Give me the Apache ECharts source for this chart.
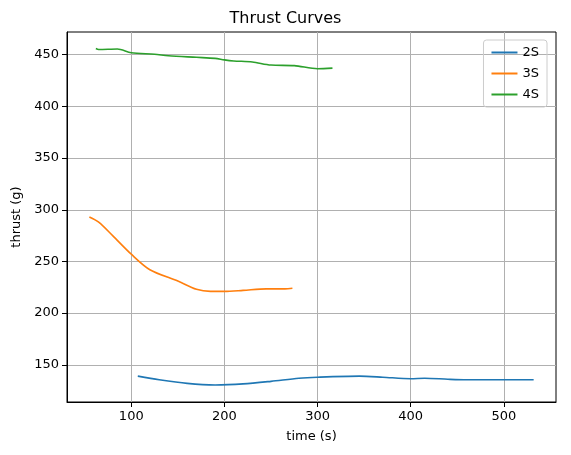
<!DOCTYPE html><html><head><meta charset="utf-8"><script src="https://cdn.jsdelivr.net/npm/echarts@6/dist/echarts.min.js"></script>
<style>body{margin:0}#c{width:571px;height:455px}</style></head><body><div id="c"></div><script>
const s2 = [[107,139],[130,135.5],[160,132],[190,130.5],[220,131.5],[250,134],[280,137],[300,138],[345,139],[370,138],[400,136.5],[415,137],[440,136],[460,135.5],[500,135.5],[532,135.5]];
const s3 = [[55,293],[65,288],[80,275],[100,257],[120,242],[150,231],[170,223],[185,221],[200,221],[220,222],[245,223.5],[265,223.5],[273,224]];
const s4 = [[62,456],[65,455],[85,455.5],[100,452],[125,450.5],[140,449],[170,447.5],[190,446.5],[200,445],[210,444],[230,443],[250,440],[275,439.5],[300,436.5],[316,437]];
const xTicks=[100,200,300,400,500];
const yTicks=[150,200,250,300,350,400,450];
const font='DejaVu Sans';
const ch=echarts.init(document.getElementById('c'));
const mk=(n,d,c)=>({name:n,type:'line',data:d,showSymbol:false,smooth:0.3,lineStyle:{color:c,width:1.6},itemStyle:{color:c}});
ch.setOption({
 animation:false,
 title:{text:'Thrust Curves',left:'center',top:6,textStyle:{fontFamily:font,fontSize:16,fontWeight:'normal',color:'#000'}},
 grid:{left:67,right:15,top:32,bottom:53,show:true,borderColor:'#000',borderWidth:1,backgroundColor:'transparent'},
 legend:{orient:'vertical',right:24,top:40,itemWidth:26,itemHeight:2,icon:'rect',padding:[6,8],borderColor:'#ccc',borderWidth:1,borderRadius:3,itemGap:8,textStyle:{fontFamily:font,fontSize:13,color:'#000'},data:['2S','3S','4S']},
 xAxis:{type:'value',min:31,max:556,name:'time (s)',nameLocation:'middle',nameGap:28,nameTextStyle:{fontFamily:font,fontSize:13,color:'#000'},
  axisLine:{onZero:false,lineStyle:{color:'#000'}},axisTick:{show:true,length:5,lineStyle:{color:'#000'},customValues:xTicks},
  axisLabel:{fontFamily:font,fontSize:13,color:'#000',customValues:xTicks,margin:8},splitLine:{show:true,lineStyle:{color:'#b0b0b0'}}},
 yAxis:{type:'value',min:114,max:472,interval:50,name:'thrust (g)',nameLocation:'middle',nameGap:44,nameTextStyle:{fontFamily:font,fontSize:13,color:'#000'},
  axisLine:{show:true,lineStyle:{color:'#000'}},axisTick:{show:true,length:5,lineStyle:{color:'#000'},customValues:yTicks},
  axisLabel:{fontFamily:font,fontSize:13,color:'#000',customValues:yTicks,margin:8},splitLine:{show:true,lineStyle:{color:'#b0b0b0'}}},
 series:[mk('2S',s2,'#1f77b4'),mk('3S',s3,'#ff7f0e'),mk('4S',s4,'#2ca02c')]
});
</script></body></html>
